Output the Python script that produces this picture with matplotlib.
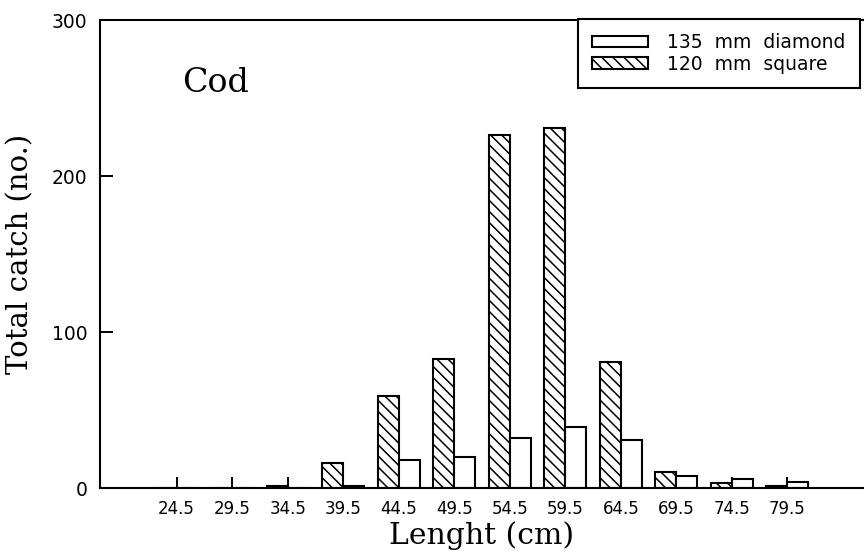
import matplotlib
matplotlib.use("Agg")
import matplotlib.pyplot as plt
import numpy as np

# Data
lengths = [24.5, 29.5, 34.5, 39.5, 44.5, 49.5, 54.5, 59.5, 64.5, 69.5, 74.5, 79.5]
tick_labels = ["24.5", "29.5", "34.5", "39.5", "44.5", "49.5", "54.5", "59.5",
               "64.5", "69.5", "74.5", "79.5"]
square_120 = [0, 0, 1, 16, 59, 83, 226, 231, 81, 10, 3, 1]
diamond_135 = [0, 0, 0, 1, 18, 20, 32, 39, 31, 8, 6, 4]
y_ticks = [0, 100, 200, 300]

plt.rcParams['hatch.linewidth'] = 1.1
plt.rcParams['hatch.color'] = 'black'

W, H = 864, 552
fig = plt.figure(figsize=(W / 100, H / 100), dpi=100)
ax = fig.add_axes([100 / W, 1 - 488 / H, 1 - 100 / W, (488 - 20) / H])

bw = 1.9
x = np.array(lengths)
b_sq = ax.bar(x, square_120, width=-bw, align='edge', facecolor='white',
              edgecolor='black', linewidth=1.5, hatch='\\\\\\', label='120  mm  square')
b_di = ax.bar(x, diamond_135, width=bw, align='edge', facecolor='white',
              edgecolor='black', linewidth=1.5, label='135  mm  diamond')

ax.set_xlim(17.6, 86.4)
ax.set_ylim(0, 300)
ax.set_xticks(lengths)
ax.set_xticklabels(tick_labels, fontsize=12, family='DejaVu Sans')
ax.set_yticks(y_ticks)
ax.set_yticklabels([str(v) for v in y_ticks], fontsize=13.5, family='DejaVu Sans')
ax.tick_params(axis='x', direction='in', length=8, width=1.4, pad=8.5, top=False)
ax.tick_params(axis='y', direction='in', length=9, width=1.4, pad=9, right=False)

for s in ['left', 'bottom', 'top']:
    ax.spines[s].set_linewidth(1.5)
ax.spines['right'].set_visible(False)

ax.set_xlabel('Lenght (cm)', fontsize=21.5, family='DejaVu Serif')
ax.set_ylabel('Total catch (no.)', fontsize=21, family='DejaVu Serif')
ax.xaxis.set_label_coords(0.5, -0.072)
ax.yaxis.set_label_coords(-0.086, 0.5)

ax.text(0.107, 0.846, 'Cod', transform=ax.transAxes, fontsize=24,
        family='DejaVu Serif', ha='left', va='baseline')

leg = fig.legend(handles=[b_di, b_sq], labels=['135  mm  diamond', '120  mm  square'],
                 loc='upper left', bbox_to_anchor=(578 / W, 1 - 19 / H),
                 bbox_transform=fig.transFigure, fontsize=13.5,
                 frameon=True, fancybox=False, edgecolor='black', framealpha=1,
                 handlelength=3.0, handleheight=0.6, handletextpad=1.0,
                 labelspacing=0.15, borderpad=0.75, borderaxespad=0)
leg.get_frame().set_linewidth(1.5)
for t in leg.get_texts():
    t.set_family('DejaVu Sans')

fig.savefig('out.png', dpi=100)
